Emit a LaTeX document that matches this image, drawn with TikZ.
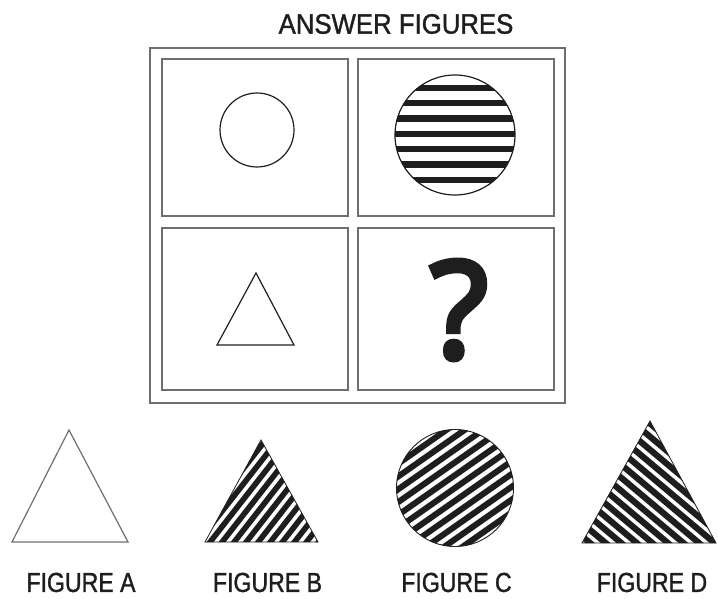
\documentclass[tikz,border=0pt]{standalone}
\usepackage{fontspec}
\setmainfont{Liberation Sans}
\newfontfamily\titlefont[FakeStretch=0.92, FakeBold=1.3]{Liberation Sans}
\newfontfamily\labelfont[FakeStretch=0.84, FakeBold=1.3]{Liberation Sans}
\newfontfamily\markfont[FakeBold=4.5]{Open Sans}
\definecolor{framegray}{RGB}{110,110,110}
\definecolor{inkblack}{RGB}{30,30,30}
\usepackage{tikz}
\usetikzlibrary{positioning}

\tikzset{
  boxline/.style={draw=framegray, line width=2.2pt},
  shapeline/.style={draw=inkblack, line width=1.2pt},
  caption/.style={inner sep=0pt, text=inkblack, font=\labelfont\fontsize{27.5}{27.5}\selectfont},
}

\begin{document}
\begin{tikzpicture}[x=1pt, y=-1pt]
                    \useasboundingbox (0,0) rectangle (718,599);

                    % Title and frame
                    \node[inner sep=0pt, text=inkblack, font=\titlefont\fontsize{28}{28}\selectfont]
                          (title) at (396, 24) {ANSWER FIGURES};
                    \draw[boxline] (150, 48) rectangle (565, 403);
                    \draw[boxline] (162, 59) rectangle (348, 216);
                    \draw[boxline] (358, 59) rectangle (554, 216);
                    \draw[boxline] (162, 228) rectangle (348, 390);
                    \draw[boxline] (358, 228) rectangle (554, 390);

                    % Cells
                    \draw[shapeline] (257, 130) circle (37);
                    \begin{scope}
                      \clip (455, 135) circle (60);
                      \foreach \k in {0,...,6}
                        \fill[inkblack] (390, 84.8+15.3*\k) rectangle (520, 91.2+15.3*\k);
                    \end{scope}
                    \draw[shapeline] (455, 135) circle (60);
                    \draw[shapeline] (256, 273) -- (294, 345) -- (217, 345) -- cycle;
                    \node[inner sep=0pt, text=inkblack, font=\markfont\fontsize{134}{134}\selectfont]
                          (qmark) at (459, 310) {?};

                    % Figure A
                    \draw[shapeline, draw=framegray] (69, 430) -- (128, 542) -- (12, 542) -- cycle;
                    \node[caption] (capA) at (81, 582.5) {FIGURE A};

                    % Figure B
                    \begin{scope}
                      \clip (261, 440) -- (318, 542) -- (205, 542) -- cycle;
                      \begin{scope}[shift={(262, 491)}, rotate=52]
                        \foreach \k in {-8,...,8}
                          \fill[inkblack] (-90, 9.5*\k-2.8) rectangle (90, 9.5*\k+2.8);
                      \end{scope}
                    \end{scope}
                    \draw[shapeline, line width=0.8pt] (261, 440) -- (318, 542) -- (205, 542) -- cycle;
                    \node[caption] (capB) at (267.5, 582.5) {FIGURE B};

                    % Figure C
                    \begin{scope}
                      \clip (455, 488) circle (58.5);
                      \begin{scope}[shift={(455, 488)}, rotate=35]
                        \foreach \k in {-7,...,7}
                          \fill[inkblack] (-80, 10.5*\k-3) rectangle (80, 10.5*\k+3);
                      \end{scope}
                    \end{scope}
                    \draw[shapeline, line width=0.9pt] (455, 488) circle (58.5);
                    \node[caption] (capC) at (456.5, 582.5) {FIGURE C};

                    % Figure D
                    \begin{scope}
                      \clip (650, 421) -- (716, 543) -- (582, 543) -- cycle;
                      \begin{scope}[shift={(649, 488)}, rotate=-40]
                        \foreach \k in {-9,...,9}
                          \fill[inkblack] (-110, 10*\k-3.1) rectangle (110, 10*\k+3.1);
                      \end{scope}
                    \end{scope}
                    \draw[shapeline, line width=0.8pt] (650, 421) -- (716, 543) -- (582, 543) -- cycle;
                    \node[caption] (capD) at (652, 582.5) {FIGURE D};
                \end{tikzpicture}
\end{document}
